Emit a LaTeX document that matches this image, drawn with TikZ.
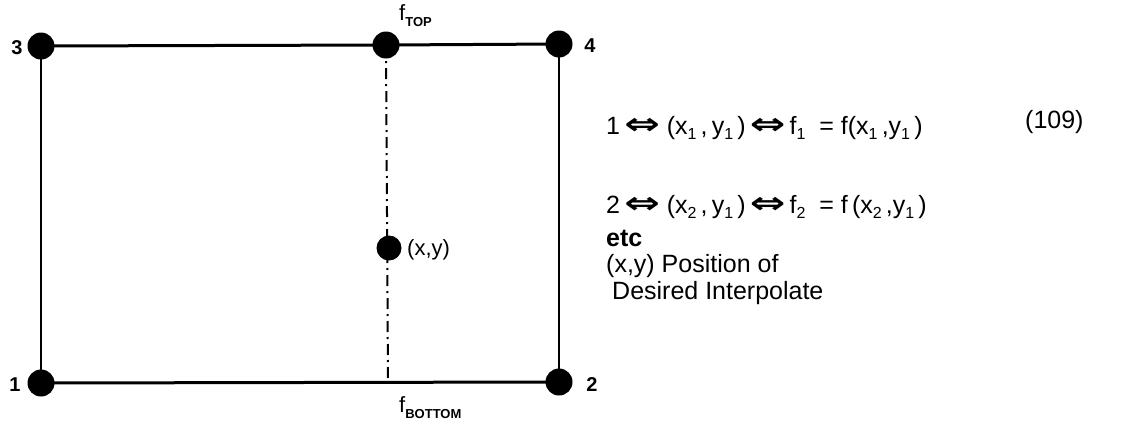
\documentclass[tikz,border=0pt]{standalone}
\usepackage{fontspec}
\setmainfont{Liberation Sans}
\newfontfamily\symfont{DejaVu Sans}
\newcommand{\lo}[1]{\raisebox{-5pt}{\fontsize{16}{16}\selectfont #1}}
\newcommand{\capsub}[1]{\raisebox{-6pt}{\fontsize{13}{13}\selectfont\bfseries #1}}
\newcommand{\dblarr}{{\symfont\bfseries\scalebox{1.7}[1.2]{⇔}}}
\begin{document}
\begin{tikzpicture}[x=1pt,y=-1pt,
  dot/.style={circle,fill=black,inner sep=0pt,minimum size=27pt},
  hline/.style={line width=3pt},
  vline/.style={line width=2pt},
  lbl/.style={inner sep=0pt,font=\fontsize{22}{24}\selectfont},
  eqn/.style={inner sep=0pt,anchor=west,font=\fontsize{25}{28}\selectfont},
  dashdotline/.style={line width=2pt,dash pattern=on 11pt off 5pt on 2pt off 5pt}]
\useasboundingbox (0,0) rectangle (1130,429);
\coordinate (p3) at (41,46);
\coordinate (ptop) at (386,45);
\coordinate (p4) at (559,44);
\coordinate (p1) at (41,383);
\coordinate (p2) at (559,382);
\coordinate (pbot) at (388,383);
\coordinate (pxy) at (389,248);
% frame
\draw[hline] (p3) -- (ptop) -- (p4);
\draw[hline] (p1) -- (p2);
\draw[vline] (p3) -- (p1);
\draw[vline] (p4) -- (p2);
\draw[dashdotline] (ptop) -- (pbot);
% dots
\node[dot] (n3) at (p3) {};
\node[dot] (ntop) at (ptop) {};
\node[dot] (n4) at (p4) {};
\node[dot] (n1) at (p1) {};
\node[dot] (n2) at (p2) {};
\node[dot,minimum size=25pt] (nxy) at (pxy) {};
% labels
\node[lbl,font=\fontsize{20}{22}\selectfont\bfseries] (l3) at (17,48) {3};
\node[lbl,font=\fontsize{20}{22}\selectfont\bfseries] (l4) at (590,46) {4};
\node[lbl,font=\fontsize{20}{22}\selectfont\bfseries] (l1) at (15,385) {1};
\node[lbl,font=\fontsize{20}{22}\selectfont\bfseries] (l2) at (592,385) {2};
\node[lbl,anchor=west] (ltop) at (399,16) {f\capsub{TOP}};
\node[lbl,anchor=west] (lbot) at (399,408) {f\capsub{BOTTOM}};
\node[lbl,anchor=west] (lxy) at (407,250) {(x,y)};
% equations
\node[eqn] (e1) at (606,128) {1\,\dblarr\ (x\lo{1}\,,\,y\lo{1}\,)\,\dblarr\,f\lo{1} \ = f(x\lo{1}\,,y\lo{1}\,)};
\node[eqn] (e109) at (1025,122) {(109)};
\node[eqn] (e2) at (606,207) {2\,\dblarr\ (x\lo{2}\,,\,y\lo{1}\,)\,\dblarr\,f\lo{2} \ = f\,(x\lo{2}\,,y\lo{1}\,)};
\node[eqn,font=\fontsize{25}{28}\selectfont\bfseries] (e3) at (606,238) {etc};
\node[eqn] (e4) at (606,266) {(x,y) Position of};
\node[eqn] (e5) at (612,293) {Desired Interpolate};
\end{tikzpicture}
\end{document}
